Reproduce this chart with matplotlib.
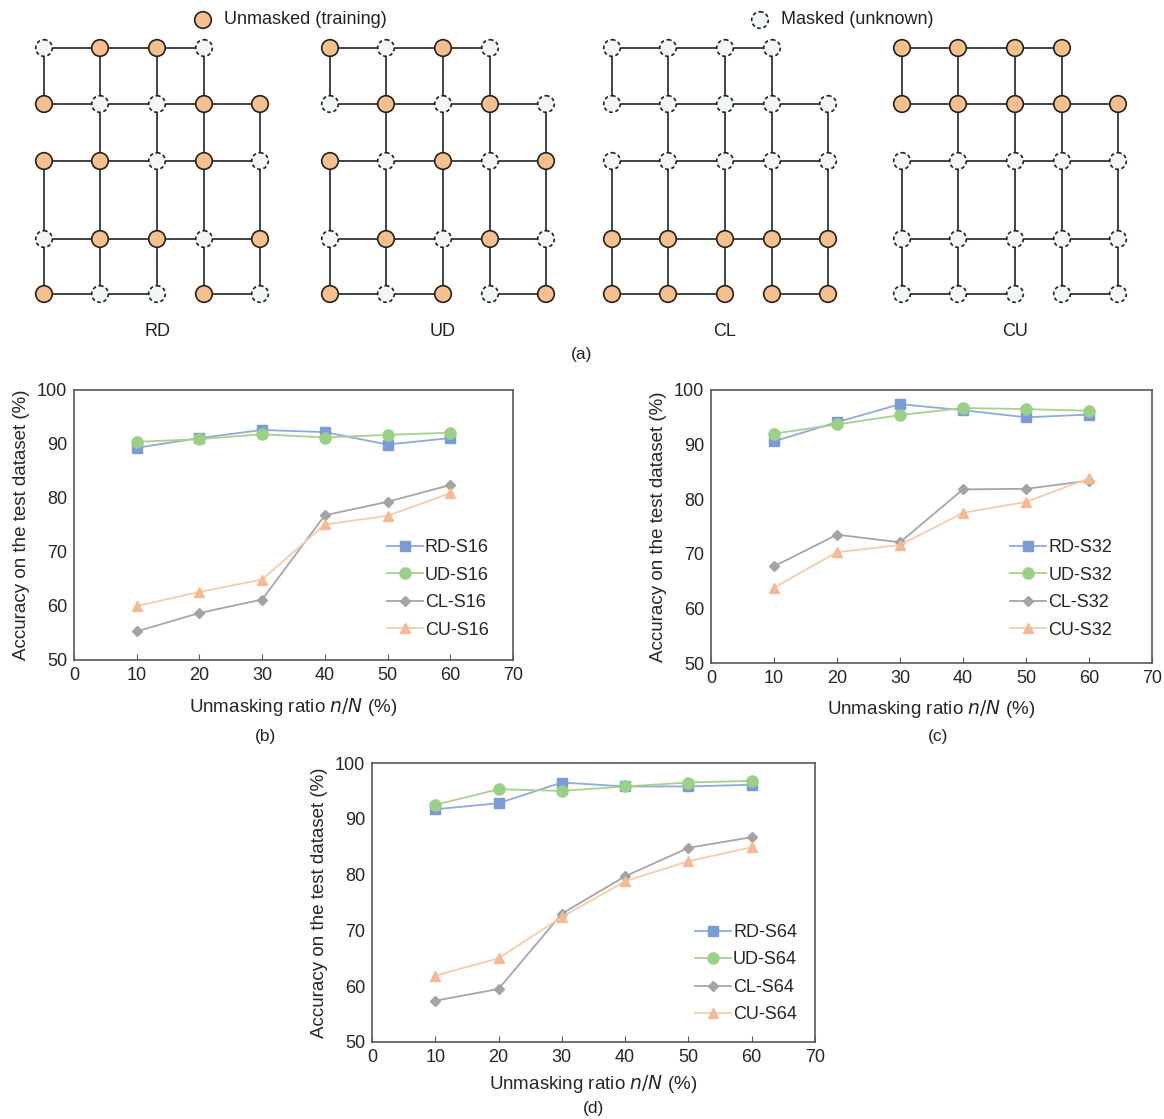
import matplotlib
matplotlib.use("Agg")
import matplotlib.pyplot as plt
from matplotlib.patches import Circle

plt.rcParams['font.family'] = ['Liberation Sans', 'DejaVu Sans']

# ---------------- data ----------------
ratios = [10, 20, 30, 40, 50, 60]

rd_s16 = [89.3, 91.1, 92.6, 92.2, 89.9, 91.1]
ud_s16 = [90.4, 90.9, 91.8, 91.2, 91.7, 92.1]
cl_s16 = [55.3, 58.7, 61.2, 76.8, 79.3, 82.4]
cu_s16 = [60.0, 62.6, 64.9, 75.1, 76.7, 80.9]

rd_s32 = [90.6, 94.1, 97.4, 96.3, 95.0, 95.5]
ud_s32 = [92.0, 93.7, 95.4, 96.7, 96.5, 96.2]
cl_s32 = [67.7, 73.5, 72.1, 81.8, 81.9, 83.4]
cu_s32 = [63.8, 70.3, 71.6, 77.5, 79.5, 83.8]

rd_s64 = [91.7, 92.8, 96.5, 95.8, 95.8, 96.1]
ud_s64 = [92.5, 95.3, 95.0, 95.8, 96.5, 96.8]
cl_s64 = [57.4, 59.5, 73.0, 79.7, 84.8, 86.7]
cu_s64 = [61.9, 65.0, 72.4, 78.8, 82.4, 84.9]

schemes = ['RD', 'UD', 'CL', 'CU']
# node states per row (U = unmasked/training, M = masked/unknown)
states = {
    'RD': ['MUUM', 'UMMUU', 'UUMUM', 'MUUMU', 'UMMUM'],
    'UD': ['UMUM', 'MUMUM', 'UMUMU', 'MUMUM', 'UMUMU'],
    'CL': ['MMMM', 'MMMMM', 'MMMMM', 'UUUUU', 'UUUUU'],
    'CU': ['UUUU', 'UUUUU', 'MMMMM', 'MMMMM', 'MMMMM'],
}
# lattice connectivity (row, col) pairs
h_edges = {0: [(0, 1), (1, 2), (2, 3)],
           1: [(0, 1), (1, 2), (2, 3), (3, 4)],
           2: [(0, 1), (1, 2), (2, 3), (3, 4)],
           3: [(0, 1), (1, 2), (2, 3), (3, 4)],
           4: [(0, 1), (1, 2), (3, 4)]}
v_edges = {0: [(0, 1), (2, 3), (3, 4)],
           1: [(0, 1), (1, 2), (2, 3), (3, 4)],
           2: [(0, 1), (1, 2), (2, 3), (3, 4)],
           3: [(0, 1), (1, 2), (2, 3), (3, 4)],
           4: [(1, 2), (2, 3), (3, 4)]}

# ---------------- layout / style ----------------
W, H = 1164, 1119
fig = plt.figure(figsize=(W / 100, H / 100), dpi=100)

ORANGE = '#F6C08E'
MASKFILL = '#F3F6F6'
EDGE = '#222222'

top = fig.add_axes([0, 0, 1, 1])
top.set_xlim(0, W)
top.set_ylim(H, 0)
top.axis('off')

grid_x0 = [44, 330, 612, 902]
col_off = [0, 56, 113, 160, 216]
row_y = [48, 104, 161, 239, 294]
R = 8.3


def node(ax, x, y, unmasked):
    if unmasked:
        ax.add_patch(Circle((x, y), R, facecolor=ORANGE, edgecolor=EDGE, lw=1.2, zorder=3))
    else:
        ax.add_patch(Circle((x, y), R, facecolor=MASKFILL, edgecolor=EDGE, lw=1.2,
                            linestyle=(0, (2.2, 1.6)), zorder=3))


for gi, s in enumerate(schemes):
    x0 = grid_x0[gi]
    xs = [x0 + c for c in col_off]
    for r, pairs in h_edges.items():
        for a, b in pairs:
            top.plot([xs[a], xs[b]], [row_y[r], row_y[r]], color=EDGE, lw=1.2, zorder=1)
    for c, pairs in v_edges.items():
        for a, b in pairs:
            top.plot([xs[c], xs[c]], [row_y[a], row_y[b]], color=EDGE, lw=1.2, zorder=1)
    for r, row in enumerate(states[s]):
        for c, st in enumerate(row):
            node(top, xs[c], row_y[r], st == 'U')
    top.text(xs[2], 331, s, ha='center', va='center', fontsize=13, color='#222222')

top.text(582, 354, '(a)', ha='center', va='center', fontsize=12.5, color='#222222')
node(top, 203, 20, True)
top.text(224, 20, 'Unmasked (training)', ha='left', va='center', fontsize=13, color='#222222')
node(top, 760, 20, False)
top.text(781, 20, 'Masked (unknown)', ha='left', va='center', fontsize=13, color='#222222')

C_RD, C_UD, C_CL, C_CU = '#7A9BD6', '#9BD087', '#A3A3A3', '#F5B996'
L_RD, L_UD, L_CL, L_CU = '#8FAADC', '#A9D18E', '#A6A6A6', '#F8CBAD'


def chart(rect, rd, ud, cl, cu, suffix, xpad, leg_anchor):
    x0, y0, x1, y1 = rect
    ax = fig.add_axes([x0 / W, 1 - y1 / H, (x1 - x0) / W, (y1 - y0) / H])
    ax.plot(ratios, rd, color=L_RD, lw=1.3, marker='s', ms=7, mfc=C_RD, mec=C_RD, label='RD-' + suffix)
    ax.plot(ratios, ud, color=L_UD, lw=1.3, marker='o', ms=8, mfc=C_UD, mec=C_UD, label='UD-' + suffix)
    ax.plot(ratios, cl, color=L_CL, lw=1.3, marker='D', ms=5, mfc=C_CL, mec=C_CL, label='CL-' + suffix)
    ax.plot(ratios, cu, color=L_CU, lw=1.3, marker='^', ms=7.5, mfc=C_CU, mec=C_CU, label='CU-' + suffix)
    ax.set_xlim(0, 70)
    ax.set_ylim(50, 100)
    ax.set_xticks(range(0, 71, 10))
    ax.set_yticks(range(50, 101, 10))
    for sp in ax.spines.values():
        sp.set_color('#595959')
        sp.set_linewidth(1.2)
    ax.tick_params(axis='x', direction='in', length=4, color='#595959', labelsize=13,
                   labelcolor='#262626', pad=5)
    ax.tick_params(axis='y', length=0, labelsize=13, labelcolor='#262626', pad=5)
    ax.set_xlabel('Unmasking ratio $\\it{n/N}$ (%)', fontsize=13.5, color='#262626', labelpad=xpad)
    ax.set_ylabel('Accuracy on the test dataset (%)', fontsize=13.5, color='#262626', labelpad=5)
    ax.legend(loc='upper right', bbox_to_anchor=leg_anchor, frameon=False, fontsize=13,
              handlelength=2.0, handletextpad=0.1, labelspacing=0.58, borderaxespad=0.2,
              labelcolor='#262626')
    return ax


chart((74, 390, 513, 660), rd_s16, ud_s16, cl_s16, cu_s16, 'S16', 9, (0.97, 0.487))
chart((711, 390, 1152, 663), rd_s32, ud_s32, cl_s32, cu_s32, 'S32', 8, (0.934, 0.493))
chart((372, 763, 815, 1042), rd_s64, ud_s64, cl_s64, cu_s64, 'S64', 5, (0.984, 0.462))

top.text(265, 737, '(b)', ha='center', va='center', fontsize=12.5, color='#222222')
top.text(938, 737, '(c)', ha='center', va='center', fontsize=12.5, color='#222222')
top.text(594, 1108, '(d)', ha='center', va='center', fontsize=12.5, color='#222222')

fig.savefig('out.png', dpi=100)
